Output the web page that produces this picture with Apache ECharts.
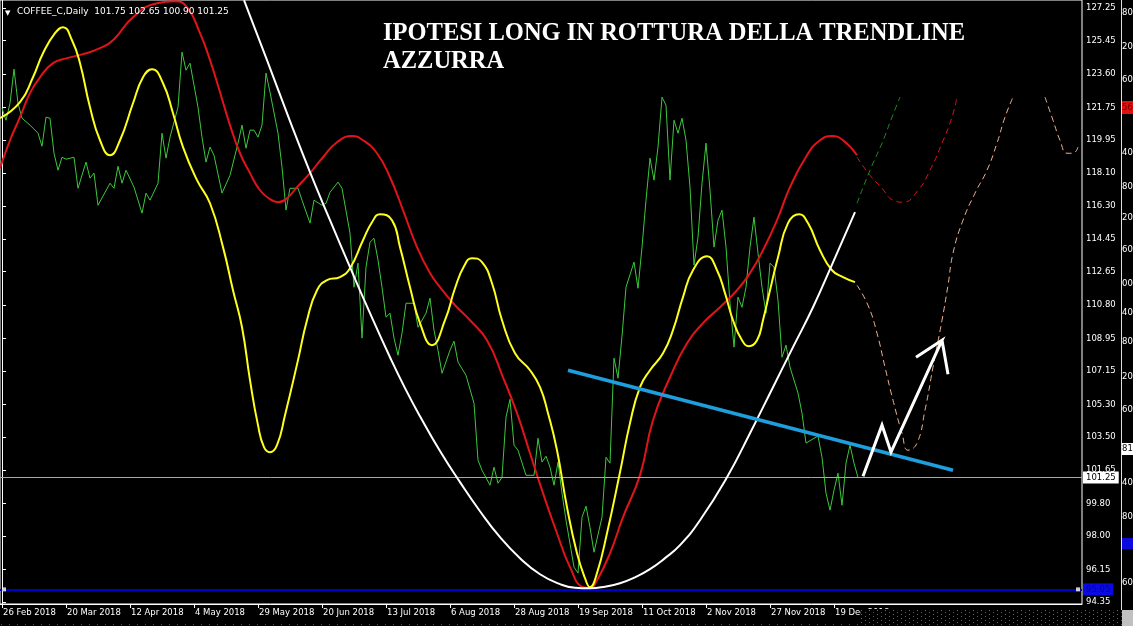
<!DOCTYPE html>
<html><head><meta charset="utf-8">
<script src="https://cdn.jsdelivr.net/npm/echarts@6/dist/echarts.min.js"></script>
<style>html,body{margin:0;padding:0;background:#000}#c{width:1133px;height:626px}</style>
</head><body><div id="c"></div><script>
// ---- data (x = bar number from 26 Feb 2018, y = price) ----
const dateLabels = ['26 Feb 2018','20 Mar 2018','12 Apr 2018','4 May 2018','29 May 2018','20 Jun 2018','13 Jul 2018','6 Aug 2018','28 Aug 2018','19 Sep 2018','11 Oct 2018','2 Nov 2018','27 Nov 2018','19 Dec 2018'];
const priceTicks = [94.35,96.15,98.00,99.80,101.65,103.50,105.30,107.15,108.95,110.80,112.65,114.45,116.30,118.10,119.95,121.75,123.60,125.45,127.25];
const symbolName = 'COFFEE_C,Daily';
const ohlc = ['101.75','102.65','100.90','101.25'];
const lastPrice = 101.25;
const supportLevel = 95.05;
const titleText = 'IPOTESI LONG IN ROTTURA DELLA TRENDLINE\nAZZURRA';

const closeLine = [[0,121.71],[1,121.04],[2,121.98],[3,123.87],[4,121.98],[5,121.15],[7,120.77],[9,120.32],[10,119.60],[11,121.21],[12,121.15],[13,119.21],[14,118.27],[15,118.99],[16,118.88],[18,118.99],[19,117.27],[21,118.72],[22,117.83],[23,118.11],[24,116.33],[27,117.55],[28,117.27],[29,118.49],[30,117.55],[31,118.27],[33,117.33],[35,115.89],[36,117.00],[37,116.61],[39,117.55],[40,120.32],[41,118.94],[42,120.10],[44,121.76],[45,124.81],[46,123.81],[47,124.20],[49,121.76],[50,120.10],[51,118.72],[52,119.55],[53,119.10],[55,117.00],[57,117.99],[59,119.77],[60,120.77],[61,119.49],[62,120.49],[63,120.49],[64,120.10],[65,120.77],[66,123.65],[67,122.59],[69,120.32],[70,118.44],[71,116.06],[72,117.27],[74,117.27],[75,116.61],[77,115.34],[78,116.61],[80,116.33],[81,116.44],[82,117.05],[84,117.61],[85,117.27],[87,114.78],[88,111.79],[89,113.12],[90,108.97],[91,112.90],[92,114.28],[93,114.50],[94,113.29],[95,111.79],[96,110.13],[97,110.35],[98,108.97],[99,108.02],[100,109.24],[101,110.90],[103,110.90],[104,109.57],[106,110.35],[107,111.18],[108,109.41],[109,108.30],[110,107.02],[112,108.30],[113,108.80],[114,107.64],[116,106.91],[118,105.36],[119,102.21],[120,101.65],[122,100.82],[123,101.82],[124,100.93],[125,101.26],[126,104.59],[127,105.58],[128,103.04],[129,102.76],[131,101.37],[133,101.37],[134,103.42],[135,102.10],[136,102.43],[137,101.82],[138,100.82],[139,102.10],[140,100.38],[141,98.88],[143,96.28],[144,95.95],[145,99.05],[146,99.66],[147,98.49],[148,97.11],[150,99.05],[151,102.37],[152,102.04],[153,107.86],[154,106.75],[155,109.08],[156,111.79],[158,113.18],[159,111.73],[160,114.01],[161,116.61],[162,118.94],[163,117.72],[164,119.55],[165,122.32],[166,121.87],[167,117.72],[168,121.04],[169,120.32],[170,121.15],[171,119.93],[172,117.33],[173,113.01],[174,114.56],[175,117.55],[176,119.77],[177,117.16],[178,114.01],[179,115.50],[180,116.06],[181,114.01],[182,110.90],[183,108.47],[184,111.24],[185,110.68],[186,111.79],[187,114.01],[188,115.67],[189,113.67],[190,111.79],[191,110.35],[192,113.12],[193,112.90],[194,111.07],[195,107.91],[196,108.58],[197,107.36],[199,105.92],[200,104.81],[201,103.15],[203,103.42],[204,103.54],[205,102.37],[206,100.38],[207,99.44],[208,100.54],[209,101.49],[210,99.71],[211,102.04],[212,103.04],[213,102.04],[214,101.25]];

const fastLine = [[-0.5,121.15],[4.5,122.04],[7.75,123.42],[10.25,124.75],[13.25,125.86],[15.25,126.19],[17.5,125.47],[19.5,124.20],[22,121.76],[24.5,119.93],[27,119.10],[29.5,119.93],[32.75,121.98],[35.25,123.42],[37.5,123.87],[40.25,123.09],[42.75,121.43],[45.25,119.55],[48.75,117.72],[52,116.44],[55.25,114.01],[57.75,111.62],[60,109.57],[62,106.64],[64,104.15],[65.5,102.93],[67,102.65],[68.75,103.04],[70.75,104.70],[74,107.75],[76.25,109.96],[78.75,111.62],[81.25,112.18],[84.5,112.35],[87,112.84],[90.25,114.39],[92.5,115.39],[94.5,115.83],[97.5,115.50],[99.5,114.01],[102,111.79],[104.5,109.80],[107.5,108.58],[110.75,109.96],[113.25,111.73],[115.5,112.95],[117.5,113.40],[120,113.18],[122.5,112.01],[125,109.96],[128.25,108.13],[132,107.19],[134.5,106.25],[136.5,104.81],[138.75,102.76],[141.25,99.60],[143.75,97.05],[145.75,95.67],[147,95.17],[148.75,95.95],[151.25,98.16],[154.5,101.54],[157,104.26],[159.5,106.25],[162,107.19],[165.25,108.13],[167.75,109.41],[170.25,111.24],[172.75,112.73],[176.25,113.51],[178.75,112.73],[180.75,111.46],[182.75,109.96],[185,108.85],[186.75,108.52],[188.75,108.85],[190.25,109.96],[192,111.62],[194,113.45],[196.5,115.34],[199.25,115.83],[201.5,115.34],[204.5,113.84],[207.5,112.73],[210.25,112.35],[213.25,112.07]];

const slowLine = [[-0.5,118.38],[2,119.93],[4.5,121.21],[7,122.54],[9.5,123.42],[12.75,124.20],[16.25,124.48],[20.25,124.70],[24.5,125.03],[27.75,125.47],[32.75,126.75],[38.75,127.52],[43.25,127.63],[46.25,127.30],[49.5,125.86],[52,124.37],[54.5,122.59],[57,120.77],[59.5,119.21],[62,118.11],[64.5,117.16],[67,116.67],[69,116.50],[71.25,116.72],[73.75,117.33],[77,118.11],[80.25,118.99],[83.75,119.82],[87.5,120.16],[90.25,119.93],[93.75,119.21],[97,117.88],[100.25,116.06],[103.75,114.01],[107,112.57],[109.5,111.79],[113.25,110.79],[117,109.96],[121.25,108.85],[125.25,106.80],[128.75,104.81],[132,102.59],[135.25,100.38],[138.75,98.16],[142,96.28],[145.25,95.17],[147,95.12],[148.75,95.56],[152,97.05],[155.25,99.05],[159.5,101.38],[162.75,104.42],[167,106.80],[171.25,108.69],[175.25,109.80],[179.5,110.68],[183.75,111.62],[187,112.57],[190.25,113.84],[193.75,115.50],[197,117.33],[201.25,119.10],[204.5,119.93],[207.5,120.16],[210.25,119.93],[213.75,119.10]];
const slowProjection = [[213.75,118.99],[217,117.99],[220,117.27],[222.75,116.61],[225.25,116.50],[229,117.16],[232,118.27],[235,119.77],[237.5,121.21],[238.75,122.32]];

const arcLine = [[60.5,127.69],[66.25,124.37],[72,120.99],[77,118.16],[82,115.50],[87,112.90],[92,110.35],[97,107.91],[100.75,106.20],[104.5,104.64],[109.5,102.71],[114.5,100.99],[119.5,99.38],[124.5,97.94],[129.5,96.78],[134.5,95.89],[139.5,95.34],[143.25,95.14],[147,95.11],[150.75,95.20],[154.5,95.39],[158.25,95.72],[162,96.17],[165.75,96.78],[169.5,97.50],[174.5,98.88],[181.25,101.26],[187,103.70],[192.75,106.25],[197.75,108.47],[202.75,110.68],[207.75,113.17],[213.25,115.95]];
const arcProjection = [[213.75,116.44],[217,118.27],[220,119.77],[222.5,121.21],[224.5,122.32]];

const fastProjection = [[213.75,111.90],[216.5,110.79],[218.75,109.24],[220.75,107.36],[222.75,105.53],[225,103.70],[226.5,102.76],[228.75,103.15],[230.75,104.98],[232.75,107.36],[235,109.96],[236.5,111.90],[237.75,113.67],[240.25,115.50],[243.25,117.00],[246.25,118.27],[248.75,119.77],[250.75,121.21],[252.75,122.32]];
const fastProjection2 = [[260.75,122.32],[262.75,121.04],[264.5,119.93],[266.25,119.21],[267.75,119.21],[269,119.55]];

const trendline = [[141.5,107.19],[237.75,101.65]];
const arrowPath = [[215.25,101.32],[220,104.15],[222.25,102.65],[235,108.85],[228.5,107.91],[235,108.85],[236.5,106.97]];
const anchorPoints = [[0.5,95.05],[269,95.05]];

// ---- chart ----
const FONT = 'DejaVu Sans';
const dateBars = dateLabels.map((_, k) => k * 16);

const pat = document.createElement('canvas');
pat.width = 8; pat.height = 4;
const pg = pat.getContext('2d');
pg.fillStyle = '#000'; pg.fillRect(0, 0, 8, 4);
pg.fillStyle = '#8a2aa8'; pg.fillRect(1, 0, 1, 1);
pg.fillStyle = '#2a9a2a'; pg.fillRect(5, 2, 1, 1);

const chart = echarts.init(document.getElementById('c'));
const dashed = (data, color) => ({
  type: 'line', data, symbol: 'none', smooth: true, z: 4,
  lineStyle: { color, width: 1, type: [6, 4] }
});

chart.setOption({
  animation: false,
  backgroundColor: '#000',
  title: {
    text: titleText, left: 378, top: 15,
    textStyle: { color: '#fff', fontFamily: 'Liberation Serif', fontWeight: 'bold', fontSize: 24.5, lineHeight: 28 }
  },
  grid: { left: 0, right: 51, top: 0, bottom: 22, show: true, borderColor: '#fff', borderWidth: 1, backgroundColor: '#000' },
  xAxis: {
    type: 'value', min: -0.5, max: 270,
    axisLine: { show: true, lineStyle: { color: '#fff', width: 1 } },
    axisTick: { show: true, customValues: dateBars, length: 4, lineStyle: { color: '#fff' } },
    axisLabel: { customValues: dateBars, formatter: v => dateLabels[Math.round(v / 16)], color: '#fff', align: 'left', margin: 4, padding: [0, 0, 0, 1], fontFamily: FONT, fontSize: 8.5 },
    splitLine: { show: false }
  },
  yAxis: {
    type: 'value', position: 'right', min: 94.24, max: 127.70,
    axisLine: { show: true, lineStyle: { color: '#fff', width: 1 } },
    axisTick: { show: true, customValues: priceTicks, length: 4, lineStyle: { color: '#fff' } },
    axisLabel: { customValues: priceTicks, formatter: v => v.toFixed(2), color: '#fff', margin: 4, fontFamily: FONT, fontSize: 8.5 },
    splitLine: { show: false }
  },
  series: [
    {
      type: 'line', data: closeLine, symbol: 'none', z: 3,
      lineStyle: { color: '#3cc83c', width: 1 },
      markLine: {
        silent: true, symbol: 'none', animation: false,
        data: [
          { yAxis: lastPrice, lineStyle: { color: '#a8a8a8', width: 1, type: 'solid' },
            label: { show: true, position: 'end', distance: 1, formatter: p => p.value.toFixed(2), color: '#000', backgroundColor: '#fff', padding: [2, 3, 1, 3], fontFamily: FONT, fontSize: 8.5 } },
          { yAxis: supportLevel, lineStyle: { color: '#0000cc', width: 2, type: 'solid' },
            label: { show: true, position: 'end', distance: 1, formatter: p => p.value.toFixed(2), color: '#0000a0', backgroundColor: '#0a0ae0', padding: [2, 3, 1, 3], fontFamily: FONT, fontSize: 8.5 } }
        ]
      }
    },
    { type: 'line', data: slowLine, symbol: 'none', smooth: true, z: 4, lineStyle: { color: '#e0141a', width: 2 } },
    { type: 'line', data: fastLine, symbol: 'none', smooth: true, z: 5, lineStyle: { color: '#ffff1e', width: 2 } },
    { type: 'line', data: arcLine, symbol: 'none', smooth: true, z: 5, lineStyle: { color: '#ffffff', width: 2 } },
    dashed(slowProjection, '#d8141a'),
    dashed(arcProjection, '#1f8a1f'),
    dashed(fastProjection, '#f0b08a'),
    dashed(fastProjection2, '#f0b08a'),
    { type: 'line', data: trendline, symbol: 'none', z: 6, lineStyle: { color: '#1e9edc', width: 3.5 } },
    { type: 'line', data: arrowPath, symbol: 'none', z: 7, lineStyle: { color: '#ffffff', width: 3, join: 'miter' } },
    { type: 'scatter', data: anchorPoints, symbol: 'rect', symbolSize: 4, z: 8, itemStyle: { color: '#fff' } }
  ],
  graphic: [
    { type: 'text', left: 5, top: 10, z: 10, style: { text: '▼', fill: '#fff', font: '7px "DejaVu Sans"' } },
    { type: 'text', left: 17, top: 7, z: 10, style: { text: symbolName + '  ' + ohlc.join(' '), fill: '#fff', font: '9px "DejaVu Sans"' } },
    { type: 'rect', shape: { x: 861, y: 609, width: 261, height: 17 }, z: 20, style: { fill: { image: pat, repeat: 'repeat' } } },
    { type: 'rect', shape: { x: 0, y: 623, width: 861, height: 3 }, z: 20, style: { fill: { image: pat, repeat: 'repeat' } } },
    { type: 'line', shape: { x1: 1121.5, y1: 0, x2: 1121.5, y2: 610 }, z: 20, style: { stroke: '#e0e0e0', lineWidth: 1 } },
    { type: 'rect', shape: { x: 1122, y: 101, width: 11, height: 13 }, z: 20, style: { fill: '#e01010' } },
    { type: 'rect', shape: { x: 1122, y: 443, width: 11, height: 12 }, z: 20, style: { fill: '#fff' } },
    { type: 'rect', shape: { x: 1122, y: 538, width: 11, height: 11 }, z: 20, style: { fill: '#0a0ae0' } },
    { type: 'rect', shape: { x: 1122, y: 610, width: 11, height: 16 }, z: 20, style: { fill: '#c0c0c0' } }
  ].concat(
    [['80',13],['20',47],['60',80],['56',108],['40',153],['80',187],['20',218],['60',250],['00',284],['40',313],['80',342],['20',377],['60',410],['81',449],['40',483],['80',517],['60',583]].map(([t, y]) => ({
      type: 'text', x: 1122, y: y, z: 21,
      style: { text: t, fill: t === '81' ? '#000' : (t === '56' ? '#600' : '#fff'), font: '8.5px "DejaVu Sans"', textVerticalAlign: 'middle' }
    }))
  )
});
</script></body></html>
